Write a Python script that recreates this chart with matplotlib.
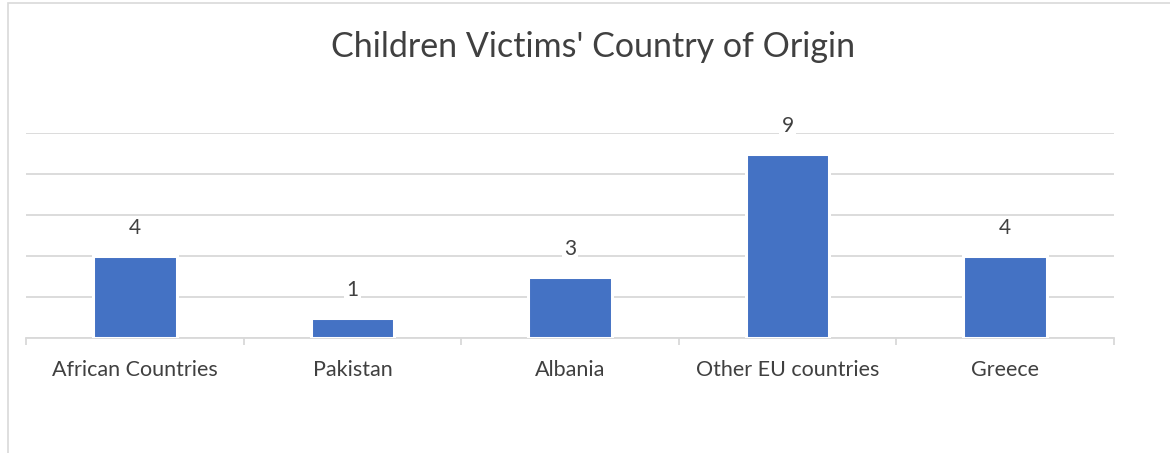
import matplotlib.pyplot as plt
from matplotlib.patches import Rectangle

# Children victims by country of origin
countries = ["African Countries", "Pakistan", "Albania", "Other EU countries", "Greece"]
victims = [4, 1, 3, 9, 4]

BAR_COLOR = "#4472C4"
GRID_COLOR = "#D9D9D9"
TEXT_COLOR = "#404040"

plt.rcParams['font.family'] = ['Lato', 'DejaVu Sans']


def main():
    fig = plt.figure(figsize=(11.7, 4.53), dpi=100)
    W, H = 1170, 453

    # chart frame (only left and top edges show)
    fig.patches.append(Rectangle((8 / W, -0.1), 1.2, 1.1 - 3 / H,
                                 transform=fig.transFigure, fill=False,
                                 edgecolor=GRID_COLOR, linewidth=1.2))

    ax = fig.add_axes([26 / W, 1 - 338 / H, (1114 - 26) / W, (338 - 133) / H])

    x = range(len(countries))
    ax.bar(x, victims, width=0.385, color=BAR_COLOR, edgecolor="white",
           linewidth=2.2, zorder=3)

    # value labels with white box so the gridlines break around them
    for xi, v in zip(x, victims):
        ax.annotate(str(v), (xi, v), xytext=(0, 20), textcoords="offset points",
                    ha="center", va="center", fontsize=15, color=TEXT_COLOR,
                    bbox=dict(facecolor="white", edgecolor="none", pad=1.5),
                    zorder=4)

    ax.set_xlim(-0.5, len(countries) - 0.5)
    ax.set_ylim(0, 10)
    ax.set_yticks(range(0, 11, 2))
    ax.yaxis.grid(True, color=GRID_COLOR, linewidth=1.3, zorder=0)
    ax.set_axisbelow(True)
    ax.tick_params(axis="y", length=0, labelleft=False)

    ax.set_xticks(list(x))
    ax.set_xticklabels(countries, fontsize=15.5, color=TEXT_COLOR)
    ax.tick_params(axis="x", which="major", length=0, pad=16)
    ax.set_xticks([i - 0.5 for i in range(len(countries) + 1)], minor=True)
    ax.tick_params(axis="x", which="minor", length=5, width=1.3, color=GRID_COLOR)

    for side in ["top", "right", "left"]:
        ax.spines[side].set_visible(False)
    ax.spines["bottom"].set_color(GRID_COLOR)
    ax.spines["bottom"].set_linewidth(1.3)

    fig.text(593 / W, 1 - 47 / H, "Children Victims' Country of Origin",
             ha="center", va="center", fontsize=24.5, color=TEXT_COLOR)

    fig.savefig("out.png", dpi=100, facecolor="white")


if __name__ == "__main__":
    main()
